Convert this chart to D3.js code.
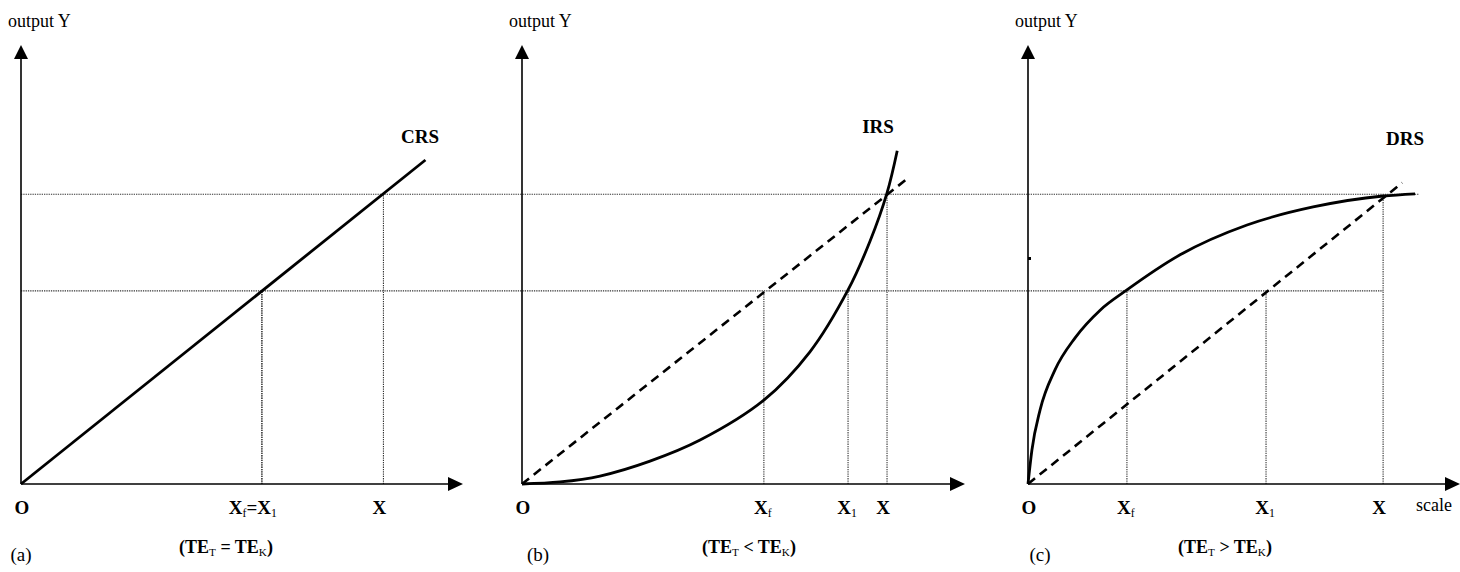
<!DOCTYPE html>
<html>
<head>
<meta charset="utf-8">
<script src="https://cdn.jsdelivr.net/npm/d3@7"></script>
<style>
  body { margin:0; background:#fff; }
  svg text { font-family: "Liberation Serif", "Times New Roman", serif; fill:#000; }
</style>
</head>
<body>
<svg id="chart" width="1460" height="572"></svg>
<script>
// chart values (x and y in abstract units, 0..100 along each axis)
var panelTags   = ["(a)", "(b)", "(c)"];
var curveNames  = ["CRS", "IRS", "DRS"];
var relSigns    = ["=", "<", ">"];
var xfValues    = [54.5, 54.6, 22.9];
var x1Values    = [54.5, 73.6, 55.1];
var xValues     = [82.0, 82.4, 82.2];
var yLow  = 44;   // Y1 level (lower dotted line)
var yHigh = 66;   // Y level (upper dotted line)
var upperLineEnd = 90.5;  // in panel (c) units

var crsCurve = [[0,0],[91.5,73.8]];
var irsCurve = [[0,0],[8.6,0.46],[17.6,1.8],[28.9,5.2],[40.2,10],[54.6,19.1],
                [65,30.1],[73.6,44.2],[78.6,55.4],[82.4,66.3],[84.7,75.9]];
var drsCurve = [[0,0],[0.9,7.7],[2.8,16.9],[6.25,26],[10.9,33.3],[16.7,39.6],
                [22.9,44.2],[35.2,52.2],[50.7,59],[66,63.1],[82.2,65.6],[89.6,66.1]];
var rayEnds  = [null, [86.9,69.5], [86.6,68.6]];

// layout
var originY = 484, topY = 45;
var panelX  = [[21,463],[522,965],[1028,1460]];   // origin x, arrow tip x
var curveLabelPos = [[420,143],[878,133],[1405,145]];
var tagX     = [21, 538, 1040];
var captionX = [226, 749, 1225];

var svg = d3.select("#chart");
var y = d3.scaleLinear().domain([0,100]).range([originY, topY]);

function arrowUp(g, x0, yTip) {
  g.append("path")
   .attr("d", d3.line()([[x0, yTip],[x0-7, yTip+14],[x0+7, yTip+14]]) + "Z")
   .attr("fill", "#000");
}
function arrowRight(g, xTip, y0) {
  g.append("path")
   .attr("d", d3.line()([[xTip, y0],[xTip-15, y0-7],[xTip-15, y0+7]]) + "Z")
   .attr("fill", "#000");
}

function dotted(g, x1, y1, x2, y2) {
  g.append("line")
   .attr("x1", x1).attr("y1", y1).attr("x2", x2).attr("y2", y2)
   .attr("stroke", "#333").attr("stroke-width", 1.1)
   .attr("stroke-dasharray", "1.3,1");
}

// text with subscripts: parts = [[text, isSub, backUp], ...]
function subText(g, xPos, yPos, parts, size, weight, anchor) {
  var t = g.append("text")
           .attr("x", xPos).attr("y", yPos)
           .attr("font-size", size)
           .attr("font-weight", weight)
           .attr("text-anchor", anchor);
  parts.forEach(function(p) {
    var s = t.append("tspan").text(p[0]);
    if (p[1]) s.attr("font-size", size*0.62).attr("font-weight", "normal").attr("dy", 3);
    else if (p[2]) s.attr("dy", -3);
  });
  return t;
}

var scales = panelX.map(function(p) {
  return d3.scaleLinear().domain([0,100]).range([p[0], p[1]]);
});

// horizontal dotted guides across all panels
var gGuide = svg.append("g");
dotted(gGuide, scales[0](0), y(yHigh), scales[2](upperLineEnd), y(yHigh));
dotted(gGuide, scales[0](0), y(yLow),  scales[2](xValues[2]),  y(yLow));

var lineGen = function(sx) {
  return d3.line().x(function(d){ return sx(d[0]); }).y(function(d){ return y(d[1]); });
};

var curves = [crsCurve, irsCurve, drsCurve];
var curveTypes = [d3.curveLinear, d3.curveCatmullRom.alpha(0.5), d3.curveMonotoneX];

for (var i=0; i<3; i++) {
  var sx = scales[i];
  var g = svg.append("g").attr("id", "panel"+i);

  // vertical dotted drops
  dotted(g, sx(xfValues[i]), y(0), sx(xfValues[i]), y(yLow));
  dotted(g, sx(x1Values[i]), y(0), sx(x1Values[i]), y(yLow));
  dotted(g, sx(xValues[i]),  y(0), sx(xValues[i]),  y(yHigh));

  // axes
  g.append("line").attr("x1", sx(0)).attr("y1", y(0)).attr("x2", sx(0)).attr("y2", topY+10)
   .attr("stroke", "#000").attr("stroke-width", 1.6);
  g.append("line").attr("x1", sx(0)).attr("y1", y(0)).attr("x2", sx(100)-10).attr("y2", y(0))
   .attr("stroke", "#000").attr("stroke-width", 1.6);
  arrowUp(g, sx(0), topY);
  arrowRight(g, sx(100), y(0));

  // constant returns ray (dashed in b and c)
  if (rayEnds[i]) {
    g.append("path")
     .attr("d", lineGen(sx)([[0,0], rayEnds[i]]))
     .attr("fill", "none").attr("stroke", "#000")
     .attr("stroke-width", 2.6).attr("stroke-dasharray", "9,6");
  }

  // technology curve
  g.append("path")
   .attr("d", lineGen(sx).curve(curveTypes[i])(curves[i]))
   .attr("fill", "none").attr("stroke", "#000").attr("stroke-width", 2.8);

  // labels
  g.append("text").attr("x", sx(0)-13).attr("y", 27).attr("font-size", 18).text("output Y");
  g.append("text").attr("x", curveLabelPos[i][0]).attr("y", curveLabelPos[i][1])
   .attr("font-size", 19).attr("font-weight", "bold").attr("text-anchor", "middle")
   .text(curveNames[i]);
  g.append("text").attr("x", sx(0)+1).attr("y", 514).attr("font-size", 19)
   .attr("font-weight", "bold").attr("text-anchor", "middle").text("O");

  if (i==0) {
    subText(g, sx(xfValues[i])-9, 514, [["X"],["f",1],["=",0,1],["X"],["1",1]], 19, "bold", "middle");
  } else {
    subText(g, sx(xfValues[i])-1, 514, [["X"],["f",1]], 19, "bold", "middle");
    subText(g, sx(x1Values[i])-1, 514, [["X"],["1",1]], 19, "bold", "middle");
  }
  subText(g, sx(xValues[i])-4, 514, [["X"]], 19, "bold", "middle");

  g.append("text").attr("x", tagX[i]).attr("y", 561).attr("font-size", 19)
   .attr("text-anchor", "middle").text(panelTags[i]);
  subText(g, captionX[i], 553,
          [["(TE"],["T",1],[" " + relSigns[i] + " ",0,1],["TE"],["K",1],[")",0,1]],
          18, "bold", "middle");
}

// axis name on the last panel
svg.append("text").attr("x", 1416).attr("y", 511).attr("font-size", 18).text("scale");
// small scan mark on panel (c) y-axis
svg.append("rect").attr("x", scales[2](0)).attr("y", 257).attr("width", 3).attr("height", 3).attr("fill", "#000");
</script>
</body>
</html>
